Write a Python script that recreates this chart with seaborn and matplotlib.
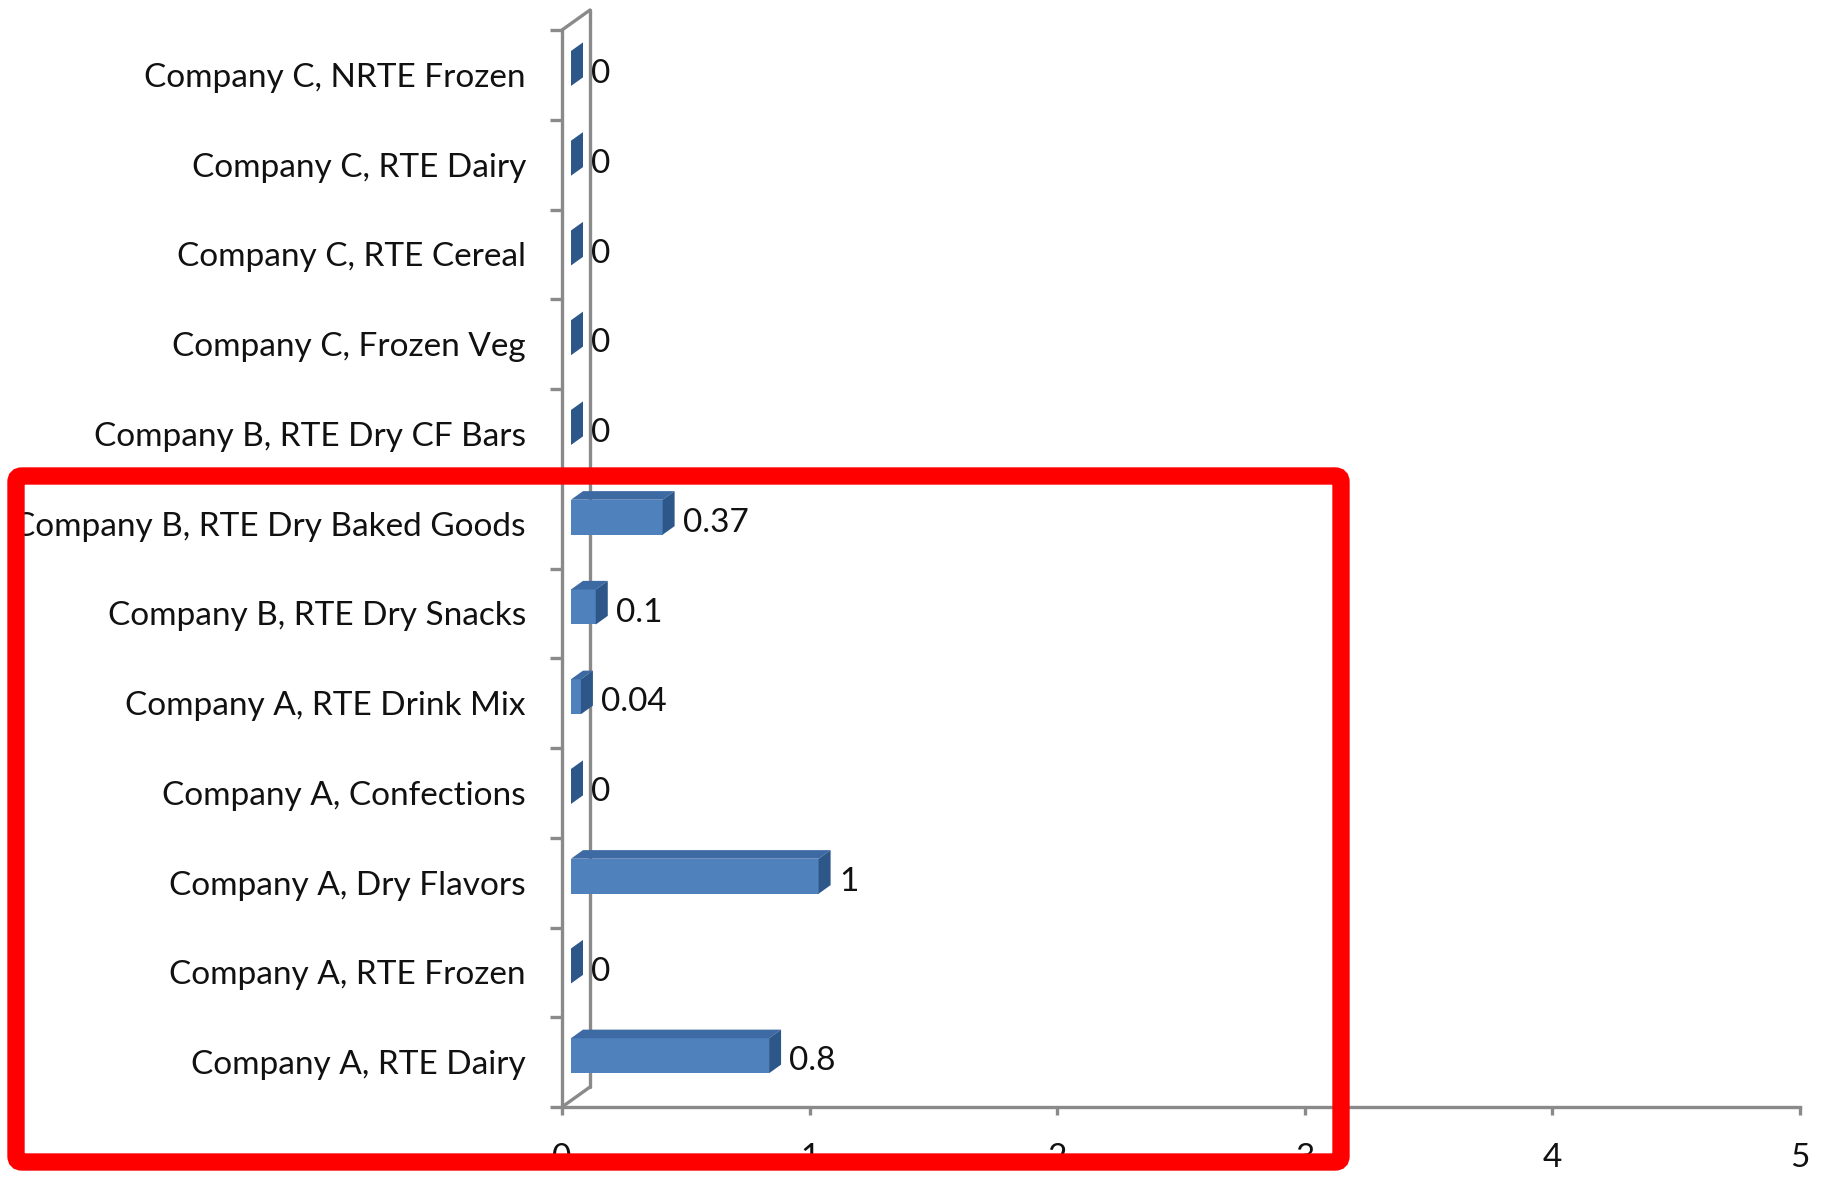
import matplotlib
matplotlib.use('Agg')
import matplotlib.pyplot as plt
import matplotlib.transforms as mtransforms
from matplotlib.patches import Polygon, FancyBboxPatch
import seaborn as sns
import pandas as pd

# categories from top to bottom, as in the chart
categories = ['Company C, NRTE Frozen', 'Company C, RTE Dairy', 'Company C, RTE Cereal',
              'Company C, Frozen Veg', 'Company B, RTE Dry CF Bars', 'Company B, RTE Dry Baked Goods',
              'Company B, RTE Dry Snacks', 'Company A, RTE Drink Mix', 'Company A, Confections',
              'Company A, Dry Flavors', 'Company A, RTE Frozen', 'Company A, RTE Dairy']
values = [0, 0, 0, 0, 0, 0.37, 0.1, 0.04, 0, 1, 0, 0.8]
x_ticks = [0, 1, 2, 3, 4, 5]

df = pd.DataFrame({'Product': categories, 'Value': values})

sns.set_style('white')
plt.rcParams['font.family'] = ['Lato', 'DejaVu Sans']

W, H = 1829, 1177
fig = plt.figure(figsize=(W / 100, H / 100), dpi=100)
L, R, T, B = 562, 1800, 30, 1107  # axes box in pixels (top-left origin)
ax = fig.add_axes([L / W, 1 - B / H, (R - L) / W, (B - T) / H])

gray = '#8a8a8a'
lw = 2.4
front_col, top_col, side_col = '#4F81BD', '#3D6AA3', '#2D5689'

sns.barplot(data=df, x='Value', y='Product', order=categories, orient='h', width=0.39,
            color=front_col, saturation=1, linewidth=0, ax=ax, zorder=3)

ax.set_xlim(0, 5)
ax.set_ylim(len(categories) - 0.5, -0.5)
ax.set_xticks(x_ticks)
ax.set_xticklabels([str(t) for t in x_ticks])
ax.set_yticks(range(len(categories)))
ax.set_yticks([i - 0.5 for i in range(len(categories) + 1)], minor=True)
ax.set_xlabel('')
ax.set_ylabel('')

for s in ['top', 'right']:
    ax.spines[s].set_visible(False)
for s in ['left', 'bottom']:
    ax.spines[s].set_color(gray)
    ax.spines[s].set_linewidth(lw)

ax.tick_params(axis='x', bottom=True, direction='out', length=6, width=lw, color=gray,
               labelsize=24, pad=20, labelcolor='#111111')
ax.tick_params(axis='y', which='major', left=True, length=0, labelsize=24, pad=26,
               labelcolor='#111111')
ax.tick_params(axis='y', which='minor', left=True, direction='out', length=8.5, width=lw,
               color=gray)

# 3D look: front shift and depth in pixels
front_dx, front_dy = 9, 6.4
depth_dx, depth_dy = 12, 8.6
shift = mtransforms.ScaledTranslation(front_dx / 100, front_dy / 100, fig.dpi_scale_trans)
tr = ax.transData + shift

px_x = ax.transData.transform((1, 0))[0] - ax.transData.transform((0, 0))[0]
px_y = ax.transData.transform((0, 0))[1] - ax.transData.transform((0, 1))[1]
ddx = depth_dx / px_x
ddy = -depth_dy / px_y

bars = list(ax.patches)
for p, v in zip(bars, values):
    p.set_transform(tr)
    x0, w = p.get_x(), p.get_width()
    yt, yb = p.get_y(), p.get_y() + p.get_height()
    top = Polygon([(x0, yt), (x0 + w, yt), (x0 + w + ddx, yt + ddy), (x0 + ddx, yt + ddy)],
                  closed=True, facecolor=top_col, edgecolor='none', transform=tr, zorder=3)
    side = Polygon([(x0 + w, yt), (x0 + w, yb), (x0 + w + ddx, yb + ddy), (x0 + w + ddx, yt + ddy)],
                   closed=True, facecolor=side_col, edgecolor='none', transform=tr, zorder=3)
    ax.add_patch(top)
    ax.add_patch(side)
    ax.annotate(f'{v:g}', xy=(x0 + w + ddx, (yt + yb) / 2), xycoords=tr,
                xytext=(6, -4), textcoords='offset points', ha='left', va='center',
                fontsize=24, color='#111111', annotation_clip=False)

# side wall of the 3D plot area (behind the bars)
wx = 28 / (R - L)
wy = 20 / (B - T)
wall = [([wx, wx], [wy, 1 + wy]),
        ([0, wx], [1, 1 + wy]),
        ([0, wx], [0, wy])]
for xs, ys in wall:
    ax.plot(xs, ys, color=gray, lw=lw, transform=ax.transAxes, clip_on=False, zorder=1)

# red highlight box
bx0, by0, bx1, by1 = 16, 476, 1341, 1162
box = FancyBboxPatch((bx0, H - by1), bx1 - bx0, by1 - by0,
                     boxstyle='round,pad=0,rounding_size=6', facecolor='none',
                     edgecolor='#FF0000', linewidth=12.5, transform=mtransforms.IdentityTransform(),
                     zorder=10)
fig.add_artist(box)

fig.savefig('out.png', dpi=100)
